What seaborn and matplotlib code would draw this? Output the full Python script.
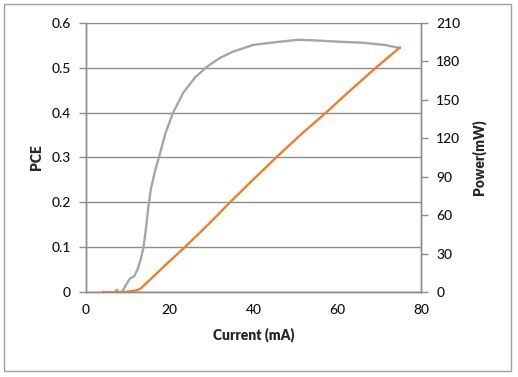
import matplotlib
matplotlib.use("Agg")
import matplotlib.pyplot as plt
import seaborn as sns
import pandas as pd
from matplotlib.patches import Rectangle

# PCE (left axis) vs drive current
pce_current = [7.0, 7.3, 7.8, 8.6, 9.5, 10.5, 11.5, 12.3, 13.0, 13.7, 14.3, 14.9,
               15.5, 16.5, 17.7, 19.0, 20.8, 23.2, 26.0, 28.8, 32.0, 35.1, 39.9,
               45.0, 50.6, 55.0, 60.9, 66.0, 71.4, 75.0]
pce = [0.0, 0.005, 0.0, 0.0, 0.015, 0.03, 0.035, 0.05, 0.07, 0.098, 0.14, 0.19,
       0.23, 0.27, 0.31, 0.355, 0.40, 0.444, 0.478, 0.502, 0.522, 0.536, 0.551,
       0.557, 0.5625, 0.561, 0.558, 0.556, 0.551, 0.544]

# optical power (right axis)
pow_current = [4, 6, 8, 10, 12, 13, 18, 23.6, 29, 34.4, 40, 45.4, 51, 57.3, 63,
               69.2, 75]
power = [0, -0.3, -0.3, 0.3, 1.2, 2.5, 18, 35, 52, 70, 88, 105, 122, 140, 157,
         175, 191]

df_pce = pd.DataFrame({"current": pce_current, "pce": pce})
df_pow = pd.DataFrame({"current": pow_current, "power": power})

sns.set_style("white")
plt.rcParams["font.family"] = ["Lato", "DejaVu Sans"]

grey = "#8c8c8c"
fig = plt.figure(figsize=(5.18, 3.77), dpi=100)
ax = fig.add_axes([0.166, 0.2255, 0.6467, 0.7135])
ax2 = ax.twinx()

sns.lineplot(data=df_pce, x="current", y="pce", ax=ax, color="#a6a6a6",
             linewidth=1.7, zorder=3)
sns.lineplot(data=df_pow, x="current", y="power", ax=ax2, color="#ED7D31",
             linewidth=1.7, zorder=3)

ax.set_xlim(0, 80)
ax.set_ylim(0, 0.6)
ax2.set_ylim(0, 210)
ax.set_xticks([0, 20, 40, 60, 80])
ax.set_yticks([0, 0.1, 0.2, 0.3, 0.4, 0.5, 0.6])
ax.set_yticklabels(["0", "0.1", "0.2", "0.3", "0.4", "0.5", "0.6"])
ax2.set_yticks(range(0, 211, 30))

ax.grid(axis="y", color=grey, linewidth=1.0)
ax.set_axisbelow(True)

for a in (ax, ax2):
    a.spines["top"].set_visible(False)
    for s in ("left", "right", "bottom"):
        a.spines[s].set_color(grey)
        a.spines[s].set_linewidth(1.0)
    a.tick_params(axis="both", colors=grey, labelcolor="#111111", length=5,
                  width=1.0, labelsize=10, direction="out")
    for lab in a.get_xticklabels() + a.get_yticklabels():
        lab.set_fontweight("medium")

ax.tick_params(axis="y", pad=6)
ax2.tick_params(axis="y", pad=6)
ax.tick_params(axis="x", pad=4)

ax.set_xlabel("Current (mA)", fontsize=10, fontweight="heavy", labelpad=8)
ax.set_ylabel("PCE", fontsize=10, fontweight="heavy", labelpad=6)
ax2.set_ylabel("Power(mW)", fontsize=10, fontweight="heavy", labelpad=8)

fig.patches.append(Rectangle((4 / 518, 6 / 377), 507 / 518, 367 / 377,
                             transform=fig.transFigure, fill=False,
                             edgecolor="#a0a0a0", linewidth=1.0))

plt.savefig("out.png", dpi=100)
